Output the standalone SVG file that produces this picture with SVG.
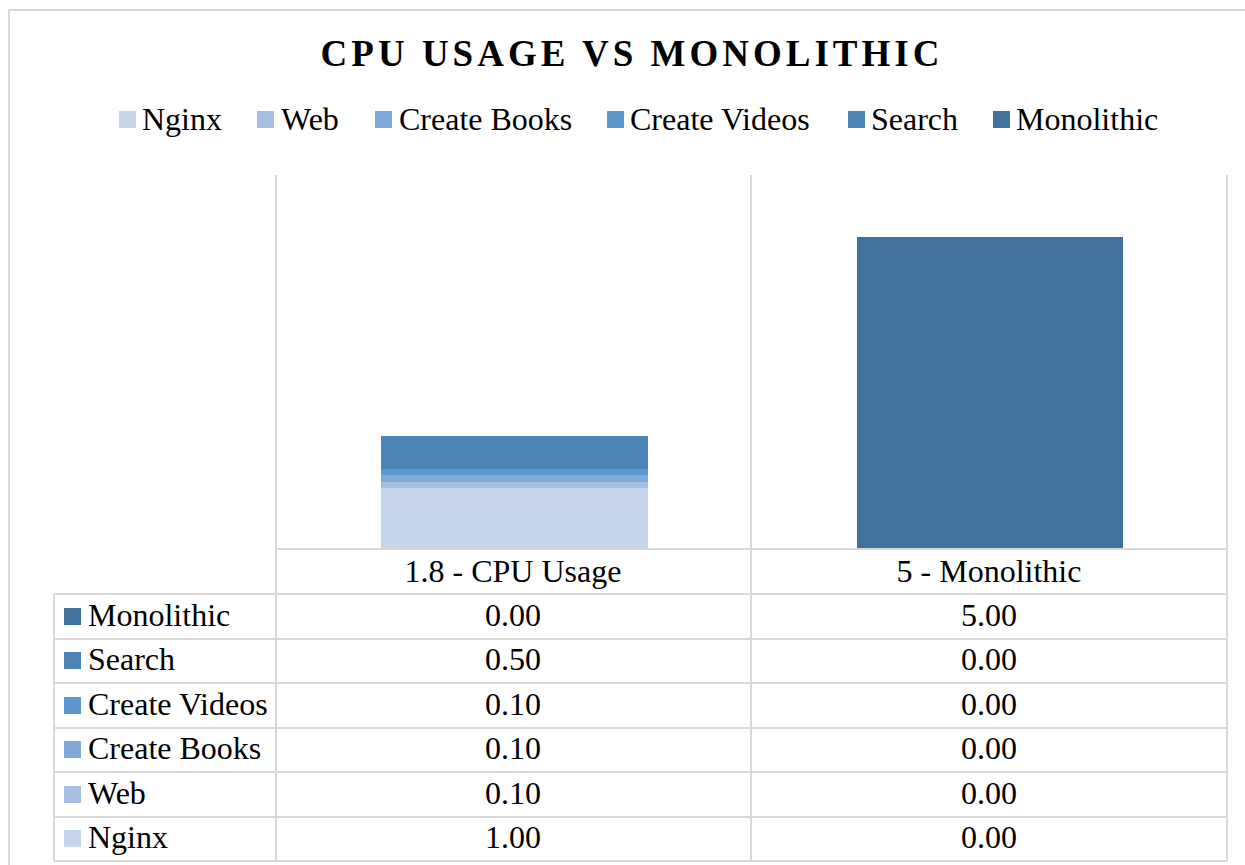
<svg xmlns="http://www.w3.org/2000/svg" width="1245" height="865" viewBox="0 0 1245 865">
  <style>
    text { font-family: "Liberation Serif", "Times New Roman", serif; fill: #000; }
    .title { font-size: 37px; font-weight: bold; letter-spacing: 4px; text-anchor: middle; }
    .lbl { font-size: 32px; }
    .val { font-size: 32px; text-anchor: middle; }
    .grid { stroke: #d9d9d9; stroke-width: 2; fill: none; }
    .nginx { fill: #c5d5ea; }
    .web { fill: #a5c0e3; }
    .books { fill: #7ea9d9; }
    .videos { fill: #5b97cd; }
    .search { fill: #4d84b6; }
    .mono { fill: #43719e; }
  </style>
  <rect x="0" y="0" width="1245" height="865" fill="#ffffff"/>
  <!-- chart frame -->
  <rect x="9" y="10" width="1260" height="880" fill="#ffffff" stroke="#d9d9d9" stroke-width="2"/>

  <text class="title" x="632" y="66">CPU USAGE VS MONOLITHIC</text>

  <!-- legend -->
  <g id="legend">
    <rect class="nginx" x="119" y="111" width="17" height="17"/><text class="lbl" x="142" y="130">Nginx</text>
    <rect class="web" x="257" y="111" width="17" height="17"/><text class="lbl" x="281" y="130">Web</text>
    <rect class="books" x="375" y="111" width="17" height="17"/><text class="lbl" x="399" y="130">Create Books</text>
    <rect class="videos" x="607" y="111" width="17" height="17"/><text class="lbl" x="630" y="130">Create Videos</text>
    <rect class="search" x="848" y="111" width="17" height="17"/><text class="lbl" x="871" y="130">Search</text>
    <rect class="mono" x="993" y="111" width="17" height="17"/><text class="lbl" x="1016" y="130">Monolithic</text>
  </g>

  <!-- plot gridlines -->
  <g id="gridlines" class="grid">
    <line x1="276" y1="175" x2="276" y2="861"/>
    <line x1="751" y1="175" x2="751" y2="861"/>
    <line x1="1227" y1="175" x2="1227" y2="861"/>
  </g>

  <!-- stacked bars -->
  <g id="bar-cpu-usage">
    <rect class="nginx" x="381" y="488" width="267" height="61"/>
    <rect class="web" x="381" y="482" width="267" height="6"/>
    <rect class="books" x="381" y="475" width="267" height="7"/>
    <rect class="videos" x="381" y="469" width="267" height="6"/>
    <rect class="search" x="381" y="436" width="267" height="33"/>
  </g>
  <g id="bar-monolithic">
    <rect class="mono" x="857" y="237" width="266" height="312"/>
  </g>

  <!-- data table -->
  <g id="data-table">
    <g class="grid">
      <line x1="276" y1="549" x2="1227" y2="549"/>
      <line x1="54" y1="594" x2="1227" y2="594"/>
      <line x1="54" y1="639" x2="1227" y2="639"/>
      <line x1="54" y1="683" x2="1227" y2="683"/>
      <line x1="54" y1="728" x2="1227" y2="728"/>
      <line x1="54" y1="772" x2="1227" y2="772"/>
      <line x1="54" y1="817" x2="1227" y2="817"/>
      <line x1="54" y1="861" x2="1227" y2="861"/>
      <line x1="54" y1="594" x2="54" y2="861"/>
    </g>
    <text class="val" x="513" y="582">1.8 - CPU Usage</text>
    <text class="val" x="989" y="582">5 - Monolithic</text>

    <g id="row-monolithic">
      <rect class="mono" x="64" y="608" width="17" height="17"/><text class="lbl" x="88" y="626">Monolithic</text>
      <text class="val" x="513" y="626">0.00</text><text class="val" x="989" y="626">5.00</text>
    </g>
    <g id="row-search">
      <rect class="search" x="64" y="652" width="17" height="17"/><text class="lbl" x="88" y="670">Search</text>
      <text class="val" x="513" y="670">0.50</text><text class="val" x="989" y="670">0.00</text>
    </g>
    <g id="row-videos">
      <rect class="videos" x="64" y="697" width="17" height="17"/><text class="lbl" x="88" y="715">Create Videos</text>
      <text class="val" x="513" y="715">0.10</text><text class="val" x="989" y="715">0.00</text>
    </g>
    <g id="row-books">
      <rect class="books" x="64" y="741" width="17" height="17"/><text class="lbl" x="88" y="759">Create Books</text>
      <text class="val" x="513" y="759">0.10</text><text class="val" x="989" y="759">0.00</text>
    </g>
    <g id="row-web">
      <rect class="web" x="64" y="786" width="17" height="17"/><text class="lbl" x="88" y="804">Web</text>
      <text class="val" x="513" y="804">0.10</text><text class="val" x="989" y="804">0.00</text>
    </g>
    <g id="row-nginx">
      <rect class="nginx" x="64" y="830" width="17" height="17"/><text class="lbl" x="88" y="848">Nginx</text>
      <text class="val" x="513" y="848">1.00</text><text class="val" x="989" y="848">0.00</text>
    </g>
  </g>
</svg>
